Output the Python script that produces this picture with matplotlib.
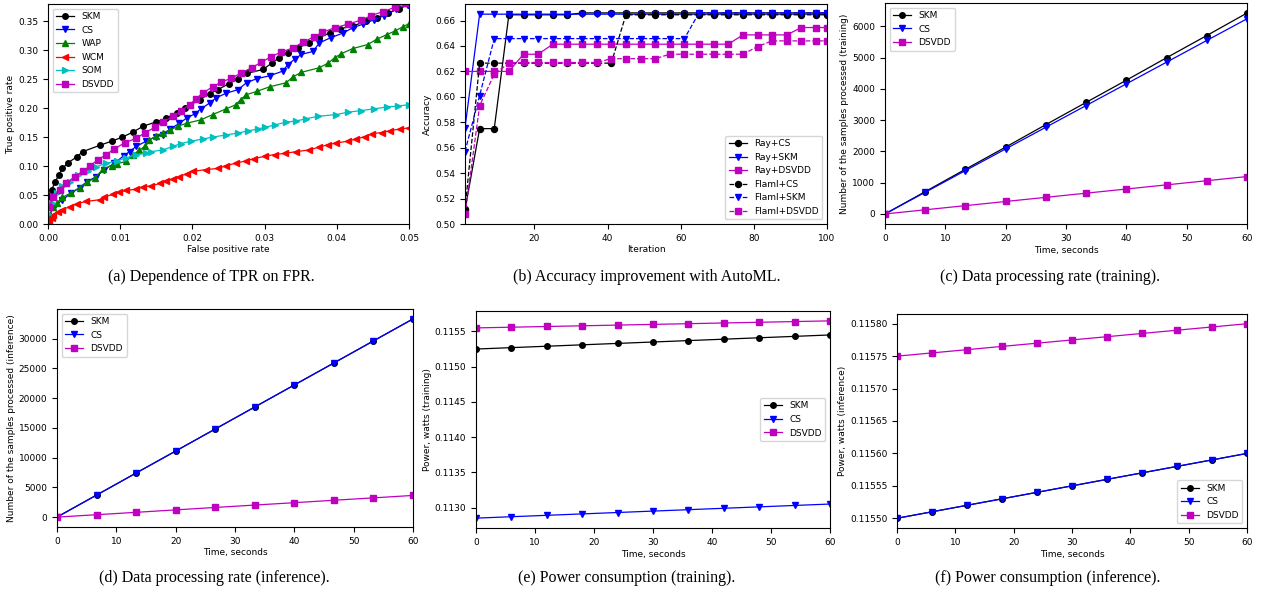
import matplotlib
matplotlib.use("Agg")
import matplotlib.pyplot as plt
from matplotlib.ticker import ScalarFormatter

W, H = 1261, 597
plt.rcParams['font.size'] = 6.5
plt.rcParams['axes.linewidth'] = 0.8

# --- (a) TPR vs FPR ---
skm_fpr = [0, 0.0005, 0.001, 0.0015, 0.002, 0.0028, 0.004, 0.0048, 0.0072, 0.0088, 0.0103, 0.0118,
           0.0132, 0.0149, 0.0164, 0.0178, 0.019, 0.021, 0.0224, 0.0235, 0.025, 0.0263, 0.0275, 0.0298,
           0.031, 0.032, 0.0332, 0.0346, 0.0362, 0.0376, 0.039, 0.0404, 0.0422, 0.044, 0.0455, 0.0471,
           0.0486, 0.05]
skm_tpr = [0.047, 0.059, 0.073, 0.085, 0.096, 0.106, 0.116, 0.125, 0.136, 0.143, 0.150, 0.159,
           0.169, 0.176, 0.183, 0.192, 0.200, 0.215, 0.225, 0.232, 0.242, 0.251, 0.260, 0.267,
           0.278, 0.287, 0.296, 0.304, 0.313, 0.322, 0.330, 0.337, 0.342, 0.350, 0.356, 0.364,
           0.372, 0.379]
cs_fpr = [0, 0.0009, 0.002, 0.0032, 0.0044, 0.0054, 0.0067, 0.0078, 0.0092, 0.0105, 0.0113, 0.0122,
          0.0136, 0.015, 0.0159, 0.0169, 0.0182, 0.0192, 0.0203, 0.0212, 0.0224, 0.0233, 0.0247,
          0.0263, 0.0275, 0.0289, 0.0307, 0.0325, 0.0332, 0.0342, 0.0351, 0.0367, 0.0376, 0.0392,
          0.0409, 0.0422, 0.0436, 0.0452, 0.0466, 0.0482, 0.0499]
cs_tpr = [0.013, 0.030, 0.042, 0.053, 0.063, 0.073, 0.082, 0.094, 0.105, 0.118, 0.125, 0.134,
          0.143, 0.151, 0.154, 0.164, 0.174, 0.183, 0.190, 0.199, 0.209, 0.218, 0.226,
          0.232, 0.244, 0.251, 0.256, 0.264, 0.275, 0.285, 0.293, 0.298, 0.313, 0.322,
          0.330, 0.339, 0.345, 0.353, 0.360, 0.371, 0.379]
wap_fpr = [0.0001, 0.0007, 0.0012, 0.002, 0.0032, 0.0044, 0.0054, 0.0065, 0.0076, 0.0088, 0.0095,
           0.0108, 0.0118, 0.0126, 0.0135, 0.014, 0.015, 0.0159, 0.0169, 0.018, 0.0192, 0.0212,
           0.0228, 0.0247, 0.026, 0.0267, 0.0274, 0.0289, 0.0307, 0.033, 0.0339, 0.0351, 0.0376,
           0.0388, 0.0397, 0.0406, 0.0422, 0.0443, 0.0455, 0.0469, 0.048, 0.0492, 0.05]
wap_tpr = [0.010, 0.030, 0.036, 0.046, 0.054, 0.063, 0.073, 0.079, 0.095, 0.101, 0.104,
           0.108, 0.120, 0.127, 0.135, 0.145, 0.152, 0.158, 0.162, 0.169, 0.174, 0.180,
           0.189, 0.199, 0.206, 0.215, 0.223, 0.229, 0.237, 0.244, 0.254, 0.262, 0.270,
           0.278, 0.287, 0.294, 0.303, 0.310, 0.319, 0.327, 0.333, 0.341, 0.346]
wcm_fpr = [0.0002, 0.0005, 0.0007, 0.0014, 0.002, 0.003, 0.004, 0.0053, 0.0072, 0.0078, 0.009,
           0.0099, 0.0108, 0.0122, 0.0132, 0.0143, 0.0155, 0.0164, 0.0173, 0.0182, 0.0192, 0.0201,
           0.0219, 0.0235, 0.0247, 0.026, 0.0274, 0.0286, 0.03, 0.0314, 0.0328, 0.0344, 0.0362,
           0.0376, 0.0388, 0.0399, 0.0415, 0.0427, 0.0439, 0.0449, 0.0462, 0.0473, 0.0487, 0.05]
wcm_tpr = [0.001, 0.010, 0.016, 0.021, 0.025, 0.030, 0.035, 0.039, 0.042, 0.047, 0.051,
           0.055, 0.058, 0.060, 0.064, 0.066, 0.070, 0.074, 0.078, 0.082, 0.087, 0.091,
           0.094, 0.096, 0.101, 0.105, 0.109, 0.113, 0.117, 0.120, 0.122, 0.125, 0.128,
           0.133, 0.137, 0.140, 0.143, 0.147, 0.151, 0.156, 0.158, 0.161, 0.164, 0.166]
som_fpr = [0, 0.0005, 0.0012, 0.002, 0.003, 0.0041, 0.0055, 0.0067, 0.0081, 0.0095, 0.0108,
           0.0122, 0.0136, 0.0143, 0.0159, 0.0173, 0.0184, 0.0198, 0.0215, 0.0228, 0.0247,
           0.0263, 0.0277, 0.0291, 0.03, 0.0314, 0.033, 0.0344, 0.0358, 0.0374, 0.0399, 0.0415,
           0.0434, 0.0452, 0.0469, 0.0485, 0.05]
som_tpr = [0.018, 0.036, 0.053, 0.065, 0.072, 0.085, 0.092, 0.099, 0.105, 0.109, 0.114,
           0.120, 0.122, 0.125, 0.128, 0.134, 0.139, 0.143, 0.147, 0.150, 0.154,
           0.157, 0.161, 0.164, 0.167, 0.171, 0.176, 0.178, 0.182, 0.186, 0.189, 0.193,
           0.196, 0.199, 0.202, 0.204, 0.206]
dsvdd_fpr = [0.0002, 0.0007, 0.0016, 0.0025, 0.0037, 0.0048, 0.0058, 0.0069, 0.0081, 0.0092,
             0.0106, 0.0122, 0.0135, 0.0148, 0.0159, 0.0173, 0.0184, 0.0196, 0.0205, 0.0214,
             0.0228, 0.024, 0.0254, 0.0268, 0.0282, 0.0295, 0.0309, 0.0323, 0.0339, 0.0353,
             0.0368, 0.038, 0.0397, 0.0415, 0.0433, 0.0448, 0.0464, 0.048, 0.0494]
dsvdd_tpr = [0.030, 0.046, 0.059, 0.070, 0.082, 0.091, 0.100, 0.111, 0.120, 0.130,
             0.140, 0.148, 0.158, 0.167, 0.176, 0.186, 0.195, 0.206, 0.216, 0.226,
             0.237, 0.245, 0.252, 0.261, 0.270, 0.279, 0.289, 0.297, 0.304, 0.314,
             0.323, 0.331, 0.339, 0.345, 0.352, 0.360, 0.367, 0.374, 0.381]

# --- (b) AutoML accuracy ---
iters = [1, 5, 9, 13, 17, 21, 25, 29, 33, 37, 41, 45, 49, 53, 57, 61, 65, 69, 73, 77, 81, 85, 89, 93, 97, 100]
ray_cs = [0.511, 0.575, 0.575, 0.6645, 0.6645, 0.6645, 0.6645, 0.6645, 0.666, 0.666, 0.666, 0.666, 0.666,
          0.666, 0.666, 0.666, 0.666, 0.666, 0.666, 0.666, 0.666, 0.666, 0.666, 0.666, 0.666, 0.666]
ray_skm = [0.5755] + [0.665] * 25
ray_dsvdd = [0.620, 0.620, 0.620, 0.620, 0.6335, 0.6335, 0.6414, 0.6414, 0.6414, 0.6414, 0.6414, 0.6414,
             0.6414, 0.6414, 0.6414, 0.6414, 0.6414, 0.6414, 0.6414, 0.6487, 0.6487, 0.6487, 0.6487,
             0.6545, 0.6545, 0.6545]
flaml_cs = [0.5115, 0.6265, 0.6265, 0.6265, 0.6265, 0.6265, 0.6265, 0.6265, 0.6265, 0.6265, 0.6265,
            0.6645, 0.6645, 0.6645, 0.6645, 0.6645, 0.6645, 0.6645, 0.6645, 0.6645, 0.6645, 0.6645,
            0.6645, 0.6645, 0.6645, 0.6645]
flaml_skm = [0.557, 0.601, 0.6458, 0.6458, 0.6458, 0.6458, 0.6458, 0.6458, 0.6458, 0.6458, 0.6458,
             0.6458, 0.6458, 0.6458, 0.6458, 0.6458, 0.666, 0.666, 0.666, 0.666, 0.666, 0.666,
             0.666, 0.666, 0.666, 0.666]
flaml_dsvdd = [0.5075, 0.593, 0.6178, 0.6265, 0.627, 0.627, 0.627, 0.627, 0.627, 0.627, 0.630, 0.630,
               0.630, 0.630, 0.6335, 0.6335, 0.6335, 0.6335, 0.6335, 0.6335, 0.6395, 0.644, 0.644,
               0.644, 0.644, 0.644]

# --- (c) training throughput ---
t_rate = [0, 6.67, 13.33, 20, 26.67, 33.33, 40, 46.67, 53.33, 60]
train_skm = [0, 715, 1430, 2140, 2860, 3570, 4280, 5000, 5710, 6430]
train_cs = [0, 694, 1388, 2082, 2776, 3470, 4164, 4858, 5552, 6246]
train_dsvdd = [0, 133, 266, 399, 532, 665, 798, 931, 1064, 1197]

# --- (d) inference throughput ---
inf_skm = [0, 3700, 7400, 11100, 14800, 18500, 22200, 25900, 29600, 33300]
inf_cs = [0, 3700, 7400, 11100, 14800, 18500, 22200, 25900, 29600, 33300]
inf_dsvdd = [0, 400, 800, 1210, 1620, 2020, 2420, 2830, 3230, 3640]

# --- (e), (f) power ---
t_power = [0, 6, 12, 18, 24, 30, 36, 42, 48, 54, 60]
pw_train_skm = [0.11525, 0.11527, 0.11529, 0.11531, 0.11533, 0.11535, 0.11537, 0.11539, 0.11541, 0.11543, 0.11545]
pw_train_cs = [0.11285, 0.11287, 0.11289, 0.11291, 0.11293, 0.11295, 0.11297, 0.11299, 0.11301, 0.11303, 0.11305]
pw_train_dsvdd = [0.11555, 0.11556, 0.11557, 0.11558, 0.11559, 0.11560, 0.11561, 0.11562, 0.11563, 0.11564, 0.11565]
pw_inf_skm = [0.11550, 0.11551, 0.11552, 0.11553, 0.11554, 0.11555, 0.11556, 0.11557, 0.11558, 0.11559, 0.11560]
pw_inf_cs = [0.11550, 0.11551, 0.11552, 0.11553, 0.11554, 0.11555, 0.11556, 0.11557, 0.11558, 0.11559, 0.11560]
pw_inf_dsvdd = [0.115750, 0.115755, 0.115760, 0.115765, 0.115770, 0.115775, 0.115780, 0.115785, 0.115790, 0.115795, 0.115800]

captions = ['(a) Dependence of TPR on FPR.', '(b) Accuracy improvement with AutoML.',
            '(c) Data processing rate (training).', '(d) Data processing rate (inference).',
            '(e) Power consumption (training).', '(f) Power consumption (inference).']

fig = plt.figure(figsize=(W / 100, H / 100), dpi=100)


def add_ax(l, r, t, b):
    return fig.add_axes([l / W, (H - b) / H, (r - l) / W, (b - t) / H])


lw = 0.9
ms = 4

# (a)
ax = add_ax(48, 409, 4, 224)
ax.plot(skm_fpr, skm_tpr, 'k-o', lw=lw, ms=ms, label='SKM')
ax.plot(cs_fpr, cs_tpr, 'b-v', lw=lw, ms=ms, label='CS')
ax.plot(wap_fpr, wap_tpr, 'g-^', lw=lw, ms=ms, label='WAP')
ax.plot(wcm_fpr, wcm_tpr, 'r-<', lw=lw, ms=ms, label='WCM')
ax.plot(som_fpr, som_tpr, 'c->', lw=lw, ms=ms, label='SOM')
ax.plot(dsvdd_fpr, dsvdd_tpr, 'm-s', lw=lw, ms=ms, label='DSVDD')
ax.set_xlim(0, 0.05)
ax.set_ylim(0, 0.38)
ax.set_xticks([0, 0.01, 0.02, 0.03, 0.04, 0.05])
ax.set_xlabel('False positive rate', labelpad=2)
ax.set_ylabel('True positive rate', labelpad=2)
ax.legend(loc='upper left', fontsize=6.5)

# (b)
ax = add_ax(465, 827, 4, 224)
ax.plot(iters, ray_cs, 'k-o', lw=lw, ms=4.3, label='Ray+CS')
ax.plot(iters, ray_skm, 'b-v', lw=lw, ms=4.3, label='Ray+SKM')
ax.plot(iters, ray_dsvdd, 'm-s', lw=lw, ms=4.3, label='Ray+DSVDD')
ax.plot(iters, flaml_cs, 'k--o', lw=lw, ms=4.3, label='Flaml+CS')
ax.plot(iters, flaml_skm, 'b--v', lw=lw, ms=4.3, label='Flaml+SKM')
ax.plot(iters, flaml_dsvdd, 'm--s', lw=lw, ms=4.3, label='Flaml+DSVDD')
ax.set_xlim(1, 100)
ax.set_ylim(0.50, 0.673)
ax.set_xticks([20, 40, 60, 80, 100])
ax.set_yticks([0.50, 0.52, 0.54, 0.56, 0.58, 0.60, 0.62, 0.64, 0.66])
ax.set_xlabel('Iteration', labelpad=2)
ax.set_ylabel('Accuracy', labelpad=2)
ax.legend(loc='lower right', fontsize=6.5)

# (c)
ax = add_ax(885, 1247, 3, 224)
ax.plot(t_rate, train_skm, 'k-o', lw=lw, ms=ms, label='SKM')
ax.plot(t_rate, train_cs, 'b-v', lw=lw, ms=ms, label='CS')
ax.plot(t_rate, train_dsvdd, 'm-s', lw=lw, ms=ms, label='DSVDD')
ax.set_xlim(0, 60)
ax.set_xlabel('Time, seconds', labelpad=2)
ax.set_ylabel('Number of the samples processed (training)', labelpad=2)
ax.legend(loc='upper left', fontsize=6.5)

# (d)
ax = add_ax(57, 413, 309, 527)
ax.plot(t_rate, inf_skm, 'k-o', lw=lw, ms=ms, label='SKM')
ax.plot(t_rate, inf_cs, 'b-v', lw=lw, ms=ms, label='CS')
ax.plot(t_rate, inf_dsvdd, 'm-s', lw=lw, ms=ms, label='DSVDD')
ax.set_xlim(0, 60)
ax.set_xlabel('Time, seconds', labelpad=2)
ax.set_ylabel('Number of the samples processed (inference)', labelpad=2)
ax.legend(loc='upper left', fontsize=6.5)

# (e)
ax = add_ax(476, 830, 311, 528)
ax.plot(t_power, pw_train_skm, 'k-o', lw=lw, ms=ms, label='SKM')
ax.plot(t_power, pw_train_cs, 'b-v', lw=lw, ms=ms, label='CS')
ax.plot(t_power, pw_train_dsvdd, 'm-s', lw=lw, ms=ms, label='DSVDD')
ax.set_xlim(0, 60)
ax.yaxis.set_major_formatter(ScalarFormatter(useOffset=False))
ax.set_xlabel('Time, seconds', labelpad=2)
ax.set_ylabel('Power, watts (training)', labelpad=2)
ax.legend(loc='center right', fontsize=6.5)

# (f)
ax = add_ax(897, 1247, 314, 528)
ax.plot(t_power, pw_inf_skm, 'k-o', lw=lw, ms=ms, label='SKM')
ax.plot(t_power, pw_inf_cs, 'b-v', lw=lw, ms=ms, label='CS')
ax.plot(t_power, pw_inf_dsvdd, 'm-s', lw=lw, ms=ms, label='DSVDD')
ax.set_xlim(0, 60)
ax.yaxis.set_major_formatter(ScalarFormatter(useOffset=False))
ax.set_xlabel('Time, seconds', labelpad=2)
ax.set_ylabel('Power, watts (inference)', labelpad=2)
ax.legend(loc='lower right', fontsize=6.5)

# captions under each panel
cap_pos = [(211, 277), (647, 277), (1050, 277), (214, 578), (627, 578), (1048, 578)]
for txt, (cx, cy) in zip(captions, cap_pos):
    fig.text(cx / W, 1 - cy / H, txt, ha='center', va='center',
             family='Liberation Serif', fontsize=11.5)

plt.savefig('out.png', dpi=100)
